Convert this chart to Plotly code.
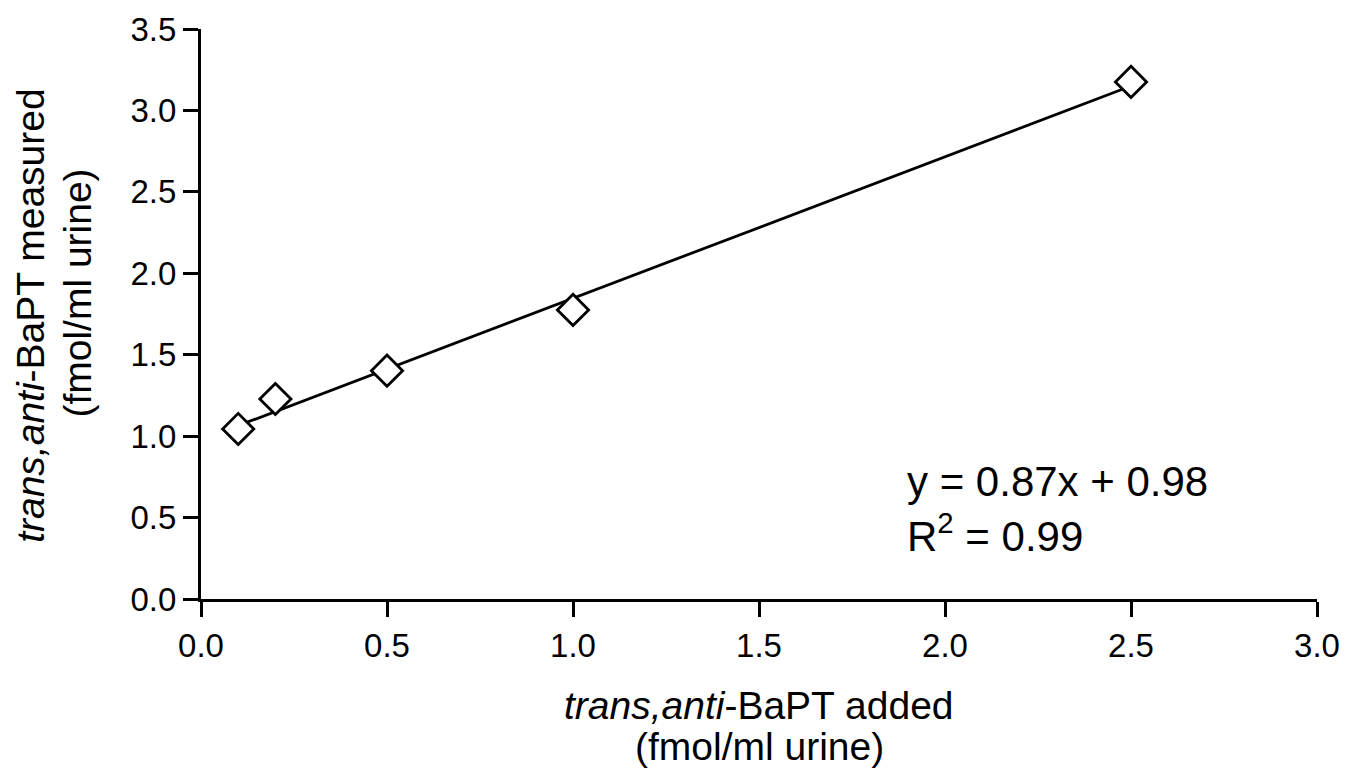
import numpy as np
import plotly.graph_objects as go

# Data
added = [0.1, 0.2, 0.5, 1.0, 2.5]               # trans,anti-BaPT added (fmol/ml urine)
measured = [1.044, 1.228, 1.402, 1.775, 3.175]  # trans,anti-BaPT measured (fmol/ml urine)

x_ticks = [0.0, 0.5, 1.0, 1.5, 2.0, 2.5, 3.0]
y_ticks = [0.0, 0.5, 1.0, 1.5, 2.0, 2.5, 3.0, 3.5]

eq_text = "y = 0.87x + 0.98"
r2_text = "R<sup>2</sup> = 0.99"

slope, intercept = np.polyfit(added, measured, 1)
fit_x = [min(added), max(added)]
fit_y = [slope * v + intercept for v in fit_x]

FONT = "Liberation Sans, Arial, Helvetica, sans-serif"

fig = go.Figure()
fig.add_trace(go.Scatter(x=fit_x, y=fit_y, mode="lines",
                         line=dict(color="black", width=2.8),
                         showlegend=False, hoverinfo="skip"))
fig.add_trace(go.Scatter(x=added, y=measured, mode="markers",
                         marker=dict(symbol="diamond", size=24, color="white",
                                     line=dict(color="black", width=2.8)),
                         showlegend=False))

axis_common = dict(showline=True, linecolor="black", linewidth=3,
                   ticks="outside", ticklen=15, tickwidth=3, tickcolor="black",
                   showgrid=False, zeroline=False, mirror=False, automargin=False,
                   tickfont=dict(family=FONT, size=33, color="black"))

fig.update_xaxes(range=[0, 3.0], tickvals=x_ticks,
                 ticktext=[f"{v:.1f}" for v in x_ticks], **axis_common)
fig.update_yaxes(range=[0, 3.5], tickvals=y_ticks,
                 ticktext=[f"{v:.1f}" for v in y_ticks], **axis_common)

TFS = 39
annots = [
    dict(text="<i>trans,anti</i>-BaPT added", x=0.5, y=-0.1877, xref="paper", yref="paper",
         xanchor="center", yanchor="middle", showarrow=False,
         font=dict(family=FONT, size=TFS, color="black")),
    dict(text="(fmol/ml urine)", x=0.5, y=-0.258, xref="paper", yref="paper",
         xanchor="center", yanchor="middle", showarrow=False,
         font=dict(family=FONT, size=TFS, color="black")),
    dict(text="<i>trans,anti</i>-BaPT measured", x=-0.1535, y=0.498, xref="paper", yref="paper",
         xanchor="center", yanchor="middle", showarrow=False, textangle=-90,
         font=dict(family=FONT, size=TFS, color="black")),
    dict(text="(fmol/ml urine)", x=-0.1105, y=0.537, xref="paper", yref="paper",
         xanchor="center", yanchor="middle", showarrow=False, textangle=-90,
         font=dict(family=FONT, size=TFS, color="black")),
    dict(text=eq_text, x=1.892, y=0.72, xref="x", yref="y",
         xanchor="left", yanchor="middle", showarrow=False,
         font=dict(family=FONT, size=42, color="black")),
    dict(text=r2_text, x=1.892, y=0.405, xref="x", yref="y",
         xanchor="left", yanchor="middle", showarrow=False,
         font=dict(family=FONT, size=42, color="black")),
]

fig.update_layout(width=1345, height=773,
                  margin=dict(l=201, r=28, t=29, b=174, autoexpand=False),
                  paper_bgcolor="white", plot_bgcolor="white",
                  annotations=annots, showlegend=False,
                  font=dict(family=FONT, color="black"))

fig.write_html("out.html", config={"displayModeBar": False},
               post_script="document.body.style.margin='0';document.body.style.overflow='hidden';")
